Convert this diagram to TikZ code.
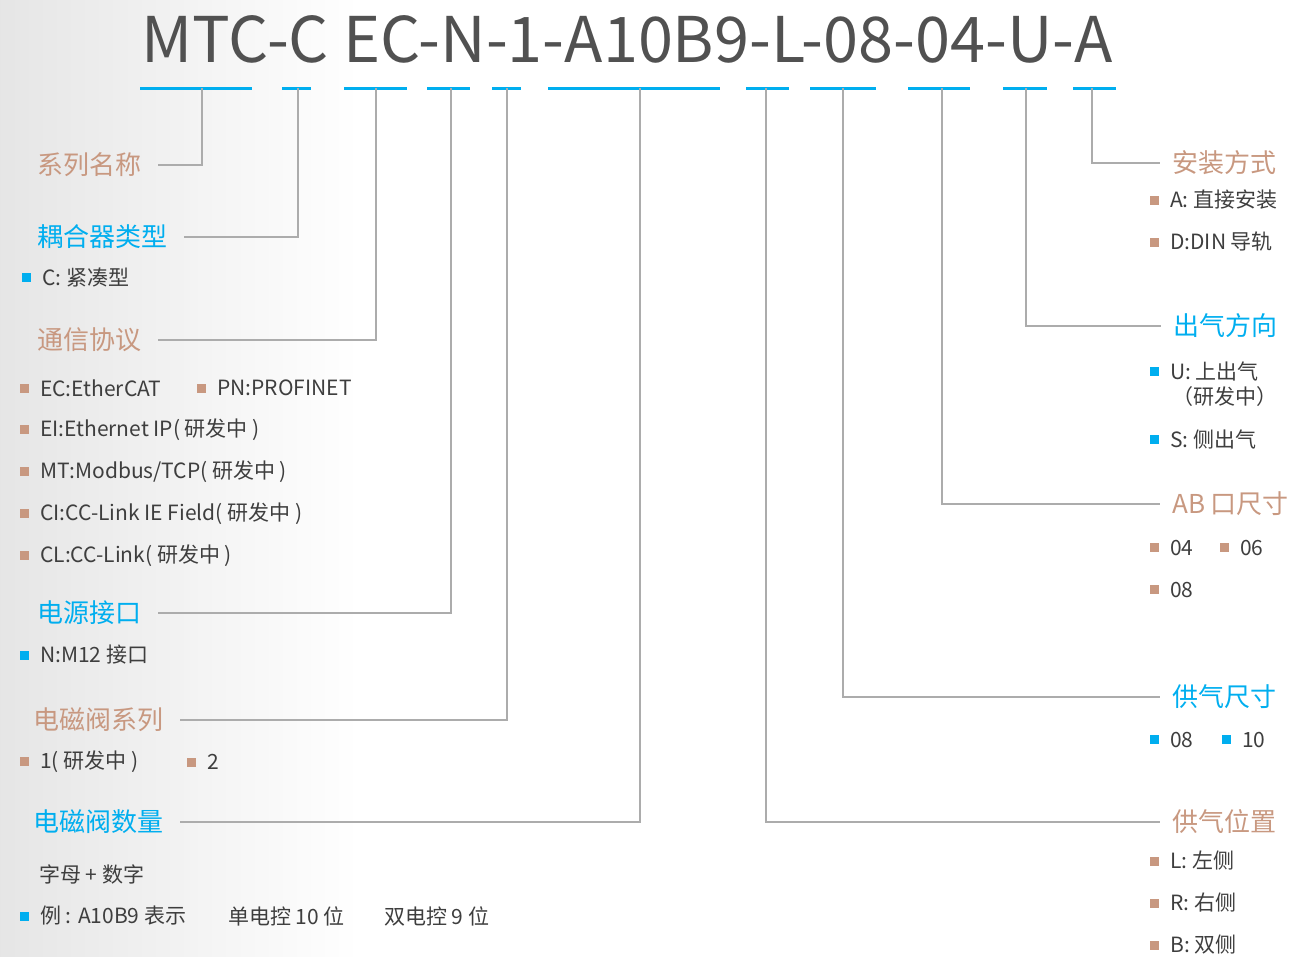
\documentclass[tikz,border=0pt]{standalone}
\usepackage{fontspec}
\setmainfont{Noto Sans CJK SC}
\definecolor{mtblue}{RGB}{0,174,239}
\definecolor{mttan}{RGB}{200,152,128}
\definecolor{mtgrey}{RGB}{172,172,172}
\definecolor{mttext}{RGB}{62,62,62}
\usetikzlibrary{positioning}
\newcommand{\tanbul}{{\color{mttan}\raisebox{3pt}{\rule{9pt}{9pt}}}\hspace{11pt}}
\newcommand{\bluebul}{{\color{mtblue}\raisebox{3pt}{\rule{9pt}{9pt}}}\hspace{11pt}}
\tikzset{
  heading/.style={anchor=west,inner sep=0pt,font=\fontsize{26}{30}\selectfont},
  item/.style={anchor=west,inner sep=0pt,text=mttext,font=\fontsize{21}{25}\selectfont},
  leader/.style={draw=mtgrey,line width=1.5pt},
  underline/.style={draw=mtblue,line width=3pt}
}
\begin{document}
\begin{tikzpicture}[x=1pt,y=-1pt]
  \useasboundingbox (0,0) rectangle (1290,956);
  \shade[left color=black!10,right color=white] (0,0) rectangle (360,956);

  % code string and its segments
  \node[anchor=base,text=mttext!90,font=\fontsize{63}{70}\selectfont] (code) at (627,62)
        {MTC-C EC-N-1-A10B9-L-08-04-U-A};
  \foreach \a/\b in {140/252,282/311,344/407,427/470,492/521,548/720,
                     746/789,810/876,908/970,1003/1047,1073/1116}
    \draw[underline] (\a,88) -- (\b,88);

  \foreach \n/\x in {dseries/202,dcoupler/298,dproto/376,dpower/451,dvseries/507,
                     dvcount/640,dsupplypos/766,dsupplysize/843,dabsize/942,
                     doutlet/1026,dmount/1092}
    \coordinate (\n) at (\x,88);

  % left headings
  \node[heading,text=mttan]  (hseries)  at (37,165) {系列名称};
  \node[heading,text=mtblue] (hcoupler) at (37,237) {耦合器类型};
  \node[heading,text=mttan]  (hproto)   at (37,340) {通信协议};
  \node[heading,text=mtblue] (hpower)   at (37,613) {电源接口};
  \node[heading,text=mttan]  (hvseries) at (33,720) {电磁阀系列};
  \node[heading,text=mtblue] (hvcount)  at (33,822) {电磁阀数量};

  % right headings
  \node[heading,text=mttan]  (hmount)      at (1172,163) {安装方式};
  \node[heading,text=mtblue] (houtlet)     at (1173,326) {出气方向};
  \node[heading,text=mttan]  (habsize)     at (1172,504) {AB 口尺寸};
  \node[heading,text=mtblue] (hsupplysize) at (1172,697) {供气尺寸};
  \node[heading,text=mttan]  (hsupplypos)  at (1172,822) {供气位置};

  % leaders
  \foreach \d/\h in {dseries/hseries,dcoupler/hcoupler,dproto/hproto,
                     dpower/hpower,dvseries/hvseries,dvcount/hvcount}
    \draw[leader] (\d) |- ([xshift=17pt]\h.east);
  \foreach \d/\h in {dmount/hmount,doutlet/houtlet,dabsize/habsize,
                     dsupplysize/hsupplysize,dsupplypos/hsupplypos}
    \draw[leader] (\d) |- ([xshift=-12pt]\h.west);

  % left items
  \node[item] (icompact) at (22,277) {\bluebul C: 紧凑型};
  \node[item] (iec)  at (20,388) {\tanbul EC:EtherCAT};
  \node[item] (ipn)  at (197,388) {\tanbul PN:PROFINET};
  \node[item] (iei)  at (20,430) {\tanbul EI:Ethernet IP( 研发中 )};
  \node[item] (imt)  at (20,472) {\tanbul MT:Modbus/TCP( 研发中 )};
  \node[item] (ici)  at (20,514) {\tanbul CI:CC-Link IE Field( 研发中 )};
  \node[item] (icl)  at (20,556) {\tanbul CL:CC-Link( 研发中 )};
  \node[item] (im12) at (20,655) {\bluebul N:M12 接口};
  \node[item] (ione) at (20,762) {\tanbul 1( 研发中 )};
  \node[item] (itwo) at (187,762) {\tanbul 2};
  \node[item] (iletter)  at (39,874) {字母 + 数字};
  \node[item] (iexample) at (20,916) {\bluebul 例 : A10B9 表示};
  \node[item] (isingle)  at (228,916) {单电控 10 位};
  \node[item] (idouble)  at (384,916) {双电控 9 位};

  % right items
  \node[item] (idirect) at (1150,200) {\tanbul A: 直接安装};
  \node[item] (idin)    at (1150,242) {\tanbul D:DIN 导轨};
  \node[item] (iup)     at (1150,371) {\bluebul U: 上出气};
  \node[item] (iupdev)  at (1172,397) {（研发中）};
  \node[item] (iside)   at (1150,439) {\bluebul S: 侧出气};
  \node[item] (iab04)   at (1150,548) {\tanbul 04};
  \node[item] (iab06)   at (1220,548) {\tanbul 06};
  \node[item] (iab08)   at (1150,590) {\tanbul 08};
  \node[item] (isup08)  at (1150,740) {\bluebul 08};
  \node[item] (isup10)  at (1222,740) {\bluebul 10};
  \node[item] (ileft)   at (1150,861) {\tanbul L: 左侧};
  \node[item] (iright)  at (1150,903) {\tanbul R: 右侧};
  \node[item] (iboth)   at (1150,945) {\tanbul B: 双侧};
\end{tikzpicture}
\end{document}
